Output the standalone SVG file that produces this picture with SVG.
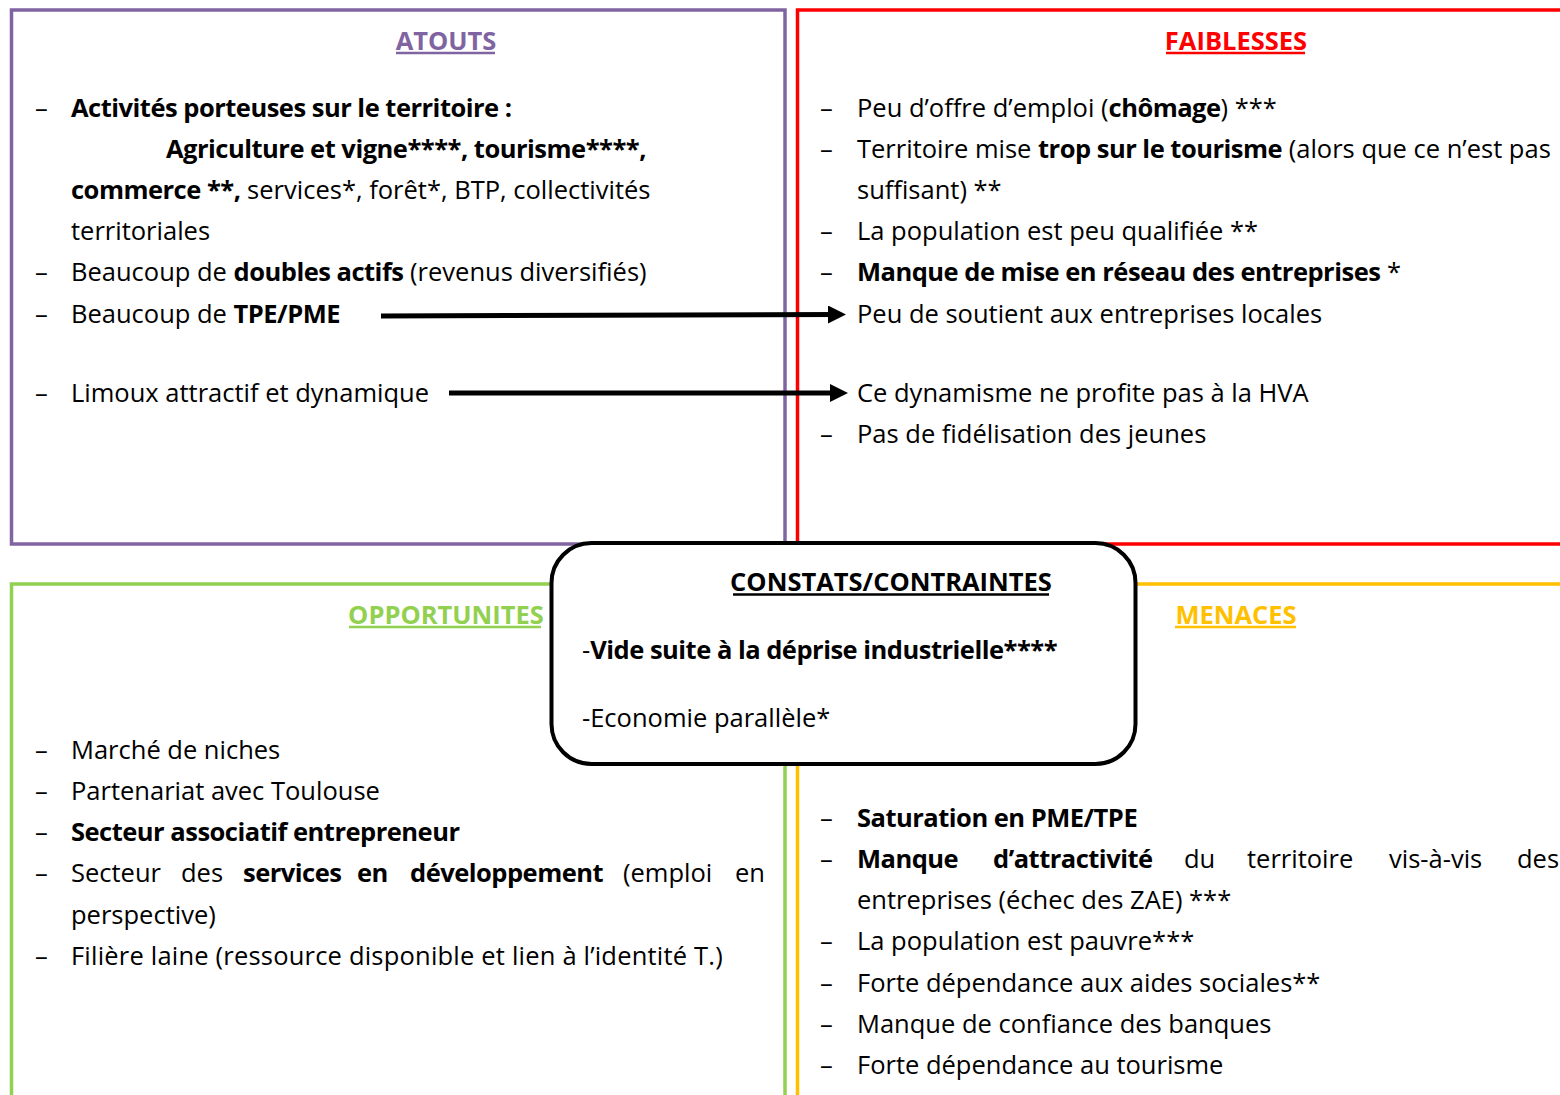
<svg xmlns="http://www.w3.org/2000/svg" width="1560" height="1095" viewBox="0 0 1560 1095">
<defs>
<style>
text{font-family:"Open Sans","Noto Sans","DejaVu Sans",sans-serif;font-size:25.5px;fill:#000}
.b{font-weight:bold;letter-spacing:-0.5px}
.h{font-weight:bold}
.frame{fill:none;stroke-width:3.5}
.ul{stroke-width:2.5}
.arrow{stroke:#000;stroke-width:5;fill:none}
</style>
<marker id="ah" markerUnits="userSpaceOnUse" markerWidth="20" markerHeight="20" refX="8" refY="9" orient="auto">
<path d="M0,0 L18,9 L0,18 Z" fill="#000"/>
</marker>
</defs>
<rect width="1560" height="1095" fill="#fff"/>

<g id="frames">
<rect class="frame" x="11.5" y="10" width="773.5" height="534" stroke="#8064A2"/>
<rect class="frame" x="797.5" y="10" width="800" height="534" stroke="#FF0000"/>
<rect class="frame" x="11.5" y="584" width="773.5" height="560" stroke="#92D050"/>
<rect class="frame" x="797.5" y="584" width="800" height="560" stroke="#FFC000"/>
</g>

<g id="atouts">
<text class="h" x="446" y="50" text-anchor="middle" style="fill:#8064A2">ATOUTS</text>
<line class="ul" x1="396" y1="53" x2="495" y2="53" stroke="#8064A2"/>
<text x="35" y="117">–</text>
<text x="71" y="117" class="b">Activités porteuses sur le territoire :</text>
<text x="166" y="158" class="b">Agriculture et vigne****, tourisme****,</text>
<text x="71" y="199"><tspan class="b">commerce **,</tspan> services*, forêt*, BTP, collectivités</text>
<text x="71" y="240">territoriales</text>
<text x="35" y="281">–</text>
<text x="71" y="281">Beaucoup de <tspan class="b">doubles actifs</tspan> (revenus diversifiés)</text>
<text x="35" y="323">–</text>
<text x="71" y="323">Beaucoup de <tspan class="b">TPE/PME</tspan></text>
<text x="35" y="402">–</text>
<text x="71" y="402">Limoux attractif et dynamique</text>
</g>

<g id="faiblesses">
<text class="h" x="1236" y="50" text-anchor="middle" style="fill:#FF0000">FAIBLESSES</text>
<line class="ul" x1="1166" y1="53" x2="1305" y2="53" stroke="#FF0000"/>
<text x="820" y="117">–</text>
<text x="857" y="117">Peu d’offre d’emploi (<tspan class="b">chômage</tspan>) ***</text>
<text x="820" y="158">–</text>
<text x="857" y="158">Territoire mise <tspan class="b">trop sur le tourisme</tspan> (alors que ce n’est pas</text>
<text x="857" y="199">suffisant) **</text>
<text x="820" y="240">–</text>
<text x="857" y="240">La population est peu qualifiée **</text>
<text x="820" y="281">–</text>
<text x="857" y="281"><tspan class="b">Manque de mise en réseau des entreprises</tspan> *</text>
<text x="857" y="323">Peu de soutient aux entreprises locales</text>
<text x="857" y="402">Ce dynamisme ne profite pas à la HVA</text>
<text x="820" y="443">–</text>
<text x="857" y="443">Pas de fidélisation des jeunes</text>
</g>

<g id="opportunites">
<text class="h" x="446" y="624" text-anchor="middle" style="fill:#92D050">OPPORTUNITES</text>
<line class="ul" x1="349" y1="627" x2="541" y2="627" stroke="#92D050"/>
<text x="35" y="759">–</text>
<text x="71" y="759">Marché de niches</text>
<text x="35" y="800">–</text>
<text x="71" y="800">Partenariat avec Toulouse</text>
<text x="35" y="841">–</text>
<text x="71" y="841" class="b">Secteur associatif entrepreneur</text>
<text x="35" y="882">–</text>
<text y="882"><tspan x="71">Secteur</tspan><tspan x="181">des</tspan><tspan x="243" class="b">services</tspan><tspan x="357" class="b">en</tspan><tspan x="410" class="b">développement</tspan><tspan x="623">(emploi</tspan><tspan x="735">en</tspan></text>
<text x="71" y="924">perspective)</text>
<text x="35" y="965">–</text>
<text x="71" y="965" style="letter-spacing:0.2px">Filière laine (ressource disponible et lien à l’identité T.)</text>
</g>

<g id="menaces">
<text class="h" x="1236" y="624" text-anchor="middle" style="fill:#FFC000">MENACES</text>
<line class="ul" x1="1175" y1="627" x2="1296" y2="627" stroke="#FFC000"/>
<text x="820" y="827">–</text>
<text x="857" y="827" class="b">Saturation en PME/TPE</text>
<text x="820" y="868">–</text>
<text y="868"><tspan x="857" class="b">Manque</tspan><tspan x="993" class="b">d’attractivité</tspan><tspan x="1184">du</tspan><tspan x="1247">territoire</tspan><tspan x="1389">vis-à-vis</tspan><tspan x="1517">des</tspan></text>
<text x="857" y="909">entreprises (échec des ZAE) ***</text>
<text x="820" y="950">–</text>
<text x="857" y="950">La population est pauvre***</text>
<text x="820" y="992">–</text>
<text x="857" y="992">Forte dépendance aux aides sociales**</text>
<text x="820" y="1033">–</text>
<text x="857" y="1033">Manque de confiance des banques</text>
<text x="820" y="1074">–</text>
<text x="857" y="1074">Forte dépendance au tourisme</text>
</g>

<g id="connectors">
<line class="arrow" x1="381" y1="316" x2="836" y2="314.5" marker-end="url(#ah)"/>
<line class="arrow" x1="449" y1="393" x2="838" y2="393" marker-end="url(#ah)"/>
</g>

<g id="constats">
<rect x="551.5" y="543" width="584" height="221" rx="40" ry="40" fill="#fff" stroke="#000" stroke-width="4"/>
<text class="h" x="891" y="591" text-anchor="middle">CONSTATS/CONTRAINTES</text>
<line class="ul" x1="733" y1="594.5" x2="1049" y2="594.5" stroke="#000"/>
<text x="582" y="659">-<tspan class="b">Vide suite à la déprise industrielle****</tspan></text>
<text x="582" y="727">-Economie parallèle*</text>
</g>
</svg>
